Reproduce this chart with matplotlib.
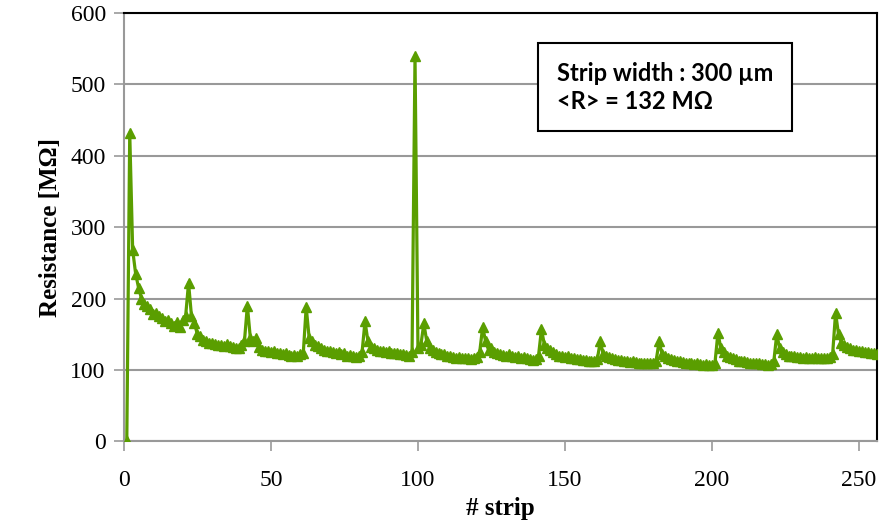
import numpy as np
import matplotlib.pyplot as plt

# resistance per strip [MOhm], strips 1..256
seg1 = [0, 432, 268, 235, 215, 200, 192, 190, 185, 178, 180, 175, 172, 168, 170, 165, 162, 167, 160, 170, 175]
seg2 = [222, 175, 165, 150, 148, 142, 140, 138, 137, 136, 135, 135, 134, 136, 133, 132, 130, 130, 135, 140]
seg3 = [190, 145, 140, 145, 132, 128, 127, 127, 125, 126, 124, 124, 122, 123, 121, 120, 121, 120, 122, 123]
seg4 = [188, 145, 140, 135, 133, 130, 128, 127, 126, 125, 124, 125, 122, 123, 120, 121, 119, 118, 120, 125]
seg5 = [168, 140, 132, 130, 128, 127, 126, 125, 126, 124, 123, 124, 122, 122, 121, 120, 125]
seg6 = [540, 130, 135, 165, 140, 130, 128, 125, 124, 122, 122, 120, 120, 118, 117, 118, 116, 117, 116, 115, 117, 118, 125]
seg7 = [160, 140, 128, 130, 125, 123, 122, 121, 120, 122, 119, 118, 120, 117, 118, 116, 115, 114, 115, 120]
seg8 = [157, 135, 130, 128, 125, 122, 120, 120, 118, 119, 117, 116, 115, 115, 114, 114, 113, 112, 113, 115]
seg9 = [140, 122, 120, 118, 116, 115, 114, 114, 113, 112, 111, 112, 111, 110, 110, 109, 110, 109, 110, 113]
seg10 = [140, 122, 120, 117, 115, 114, 113, 112, 111, 110, 110, 109, 108, 109, 108, 107, 108, 107, 107, 110]
seg11 = [152, 130, 125, 120, 118, 116, 115, 113, 112, 112, 111, 110, 110, 109, 109, 108, 108, 107, 108, 112]
seg12 = [150, 130, 125, 122, 120, 120, 119, 118, 118, 117, 118, 116, 117, 118, 116, 117, 116, 117, 118, 122]
seg13 = [180, 150, 138, 135, 132, 130, 128, 128, 127, 126, 125, 125, 124, 123, 122]

resistance = seg1 + seg2 + seg3 + seg4 + seg5 + seg6 + seg7 + seg8 + seg9 + seg10 + seg11 + seg12 + seg13
strips = np.arange(1, len(resistance) + 1)

fig = plt.figure(figsize=(8.91, 5.24), dpi=100)
ax = fig.add_axes([0.139, 0.158, 0.845, 0.817])

ax.plot(strips, resistance, color='#5a9e00', lw=2.3, marker='^', ms=6.5, zorder=3)

ax.set_xlim(0, 256)
ax.set_ylim(0, 600)
ax.set_xticks(range(0, 251, 50))
ax.set_yticks(range(0, 601, 100))
ax.yaxis.grid(True, color='#999999', lw=1.5)
ax.set_axisbelow(True)

for s in ['left', 'bottom']:
    ax.spines[s].set_color('#999999')
    ax.spines[s].set_linewidth(1.5)
for s in ['top', 'right']:
    ax.spines[s].set_color('black')
    ax.spines[s].set_linewidth(1.5)

ax.tick_params(axis='x', direction='out', length=7, color='#999999', width=1.2, pad=14,
               labelsize=17)
ax.tick_params(axis='y', direction='out', length=7, color='#999999', width=1.2, pad=6,
               labelsize=17)
for lab in ax.get_xticklabels() + ax.get_yticklabels():
    lab.set_family('Liberation Serif')

ax.set_xlabel('# strip', family='Liberation Serif', fontsize=18, fontweight='bold', labelpad=4)
ax.set_ylabel('Resistance [MΩ]', family='Liberation Serif', fontsize=18, fontweight='bold', labelpad=6)

ax.text(0.575, 0.827, 'Strip width : 300 µm\n<R> = 132 MΩ', transform=ax.transAxes,
        family='Lato', fontweight='bold', fontsize=17, linespacing=1.25, va='center', ha='left',
        bbox=dict(boxstyle='square,pad=0.8', fc='white', ec='black', lw=1.5))

plt.savefig('out.png')
